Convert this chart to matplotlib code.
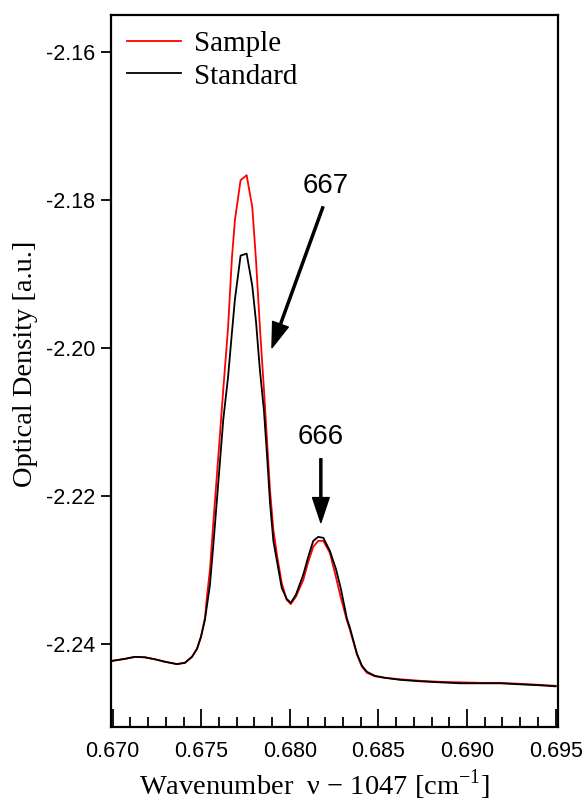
import matplotlib
matplotlib.use("Agg")
import matplotlib.pyplot as plt

# wavenumber offset (nu - 1047) [cm-1]
wavenumber = [0.67000, 0.67069, 0.67126, 0.67182, 0.67239, 0.67295, 0.67363, 0.67408,
              0.67448, 0.67476, 0.67498, 0.67521, 0.67532, 0.67549, 0.67568, 0.67596,
              0.67624, 0.67651, 0.67673, 0.67690, 0.67722, 0.67756, 0.67788, 0.67809,
              0.67831, 0.67854, 0.67871, 0.67888, 0.67907, 0.67929, 0.67954, 0.67982,
              0.68005, 0.68034, 0.68076, 0.68102, 0.68132, 0.68160, 0.68189, 0.68226,
              0.68260, 0.68288, 0.68321, 0.68339, 0.68379, 0.68407, 0.68435, 0.68480,
              0.68537, 0.68621, 0.68734, 0.68847, 0.68960, 0.69073, 0.69186, 0.69299,
              0.69411, 0.69500]

sample = [-2.24220, -2.24194, -2.24167, -2.24173, -2.24200, -2.24233, -2.24265, -2.24247,
          -2.24166, -2.24058, -2.23896, -2.23640, -2.23356, -2.22992, -2.22358, -2.21468,
          -2.20564, -2.19730, -2.18783, -2.18270, -2.17731, -2.17663, -2.18095, -2.18810,
          -2.19720, -2.20564, -2.21239, -2.21913, -2.22453, -2.22817, -2.23168, -2.23397,
          -2.23455, -2.23356, -2.23127, -2.22898, -2.22682, -2.22601, -2.22601, -2.22763,
          -2.23090, -2.23370, -2.23667, -2.23802, -2.24139, -2.24301, -2.24382, -2.24430,
          -2.24450, -2.24470, -2.24490, -2.24504, -2.24511, -2.24518, -2.24518, -2.24531,
          -2.24545, -2.24558]

standard = [-2.24220, -2.24194, -2.24167, -2.24173, -2.24200, -2.24233, -2.24265, -2.24247,
            -2.24166, -2.24058, -2.23903, -2.23667, -2.23478, -2.23195, -2.22662, -2.21819,
            -2.20969, -2.20394, -2.19792, -2.19339, -2.18749, -2.18722, -2.19157, -2.19640,
            -2.20294, -2.20847, -2.21441, -2.22088, -2.22601, -2.22898, -2.23234, -2.23383,
            -2.23437, -2.23329, -2.23055, -2.22830, -2.22601, -2.22547, -2.22560, -2.22736,
            -2.22979, -2.23248, -2.23640, -2.23775, -2.24126, -2.24288, -2.24369, -2.24423,
            -2.24450, -2.24477, -2.24497, -2.24511, -2.24524, -2.24524, -2.24524, -2.24538,
            -2.24551, -2.24565]

plt.rcParams["mathtext.fontset"] = "custom"
plt.rcParams["mathtext.rm"] = "Liberation Serif"

fig = plt.figure(figsize=(5.87, 8.02), dpi=100)
ax = fig.add_axes([0.1886, 0.0939, 0.7625, 0.8874])

ax.plot(wavenumber, sample, color="#ff0000", lw=1.3, label="Sample")
ax.plot(wavenumber, standard, color="black", lw=1.3, label="Standard")

ax.set_xlim(0.66989, 0.69515)
ax.set_ylim(-2.2511, -2.1550)

ax.set_xticks([0.670, 0.675, 0.680, 0.685, 0.690, 0.695])
ax.set_xticks([0.670 + 0.001 * i for i in range(26)], minor=True)
ax.set_yticks([-2.24, -2.22, -2.20, -2.18, -2.16])
ax.set_xticklabels(["0.670", "0.675", "0.680", "0.685", "0.690", "0.695"])
ax.set_yticklabels(["-2.24", "-2.22", "-2.20", "-2.18", "-2.16"])

ax.tick_params(axis="x", which="major", direction="in", length=13, width=1.3, pad=10)
ax.tick_params(axis="x", which="minor", direction="in", length=7, width=1.3)
ax.tick_params(axis="y", which="major", direction="out", length=7, width=1.3, pad=4)
ax.tick_params(axis="y", which="minor", left=False)
for lab in ax.get_xticklabels() + ax.get_yticklabels():
    lab.set_fontfamily("Liberation Sans")
    lab.set_fontsize(15.5)
for s in ax.spines.values():
    s.set_linewidth(1.6)

ax.set_xlabel("Wavenumber  \u03bd \u2212 1047 [cm$^{\\mathrm{-1}}$]", fontfamily="Liberation Serif", fontsize=20.5)
ax.xaxis.set_label_coords(0.455, -0.057)
ax.set_ylabel("Optical Density [a.u.]", fontfamily="Liberation Serif", fontsize=20.5)
ax.yaxis.set_label_coords(-0.163, 0.51)

leg = ax.legend(loc="upper left", bbox_to_anchor=(0.0, 1.0), frameon=False, handlelength=1.85,
                prop={"family": "Liberation Serif", "size": 21},
                borderaxespad=0.25, labelspacing=0.2, handletextpad=0.45, borderpad=0.3)

# peak labels
ax.annotate("", xy=(0.67899, -2.19993), xytext=(0.68187, -2.18091),
            arrowprops=dict(facecolor="black", edgecolor="black", width=1.5, headwidth=12, headlength=18, shrink=0))
ax.text(0.68204, -2.17808, "667", ha="center", va="center", fontsize=20, fontfamily="Liberation Sans")
ax.annotate("", xy=(0.68175, -2.22354), xytext=(0.68175, -2.21491),
            arrowprops=dict(facecolor="black", edgecolor="black", width=1.5, headwidth=12, headlength=18, shrink=0))
ax.text(0.68175, -2.21194, "666", ha="center", va="center", fontsize=20, fontfamily="Liberation Sans")

plt.savefig("out.png", dpi=100)
